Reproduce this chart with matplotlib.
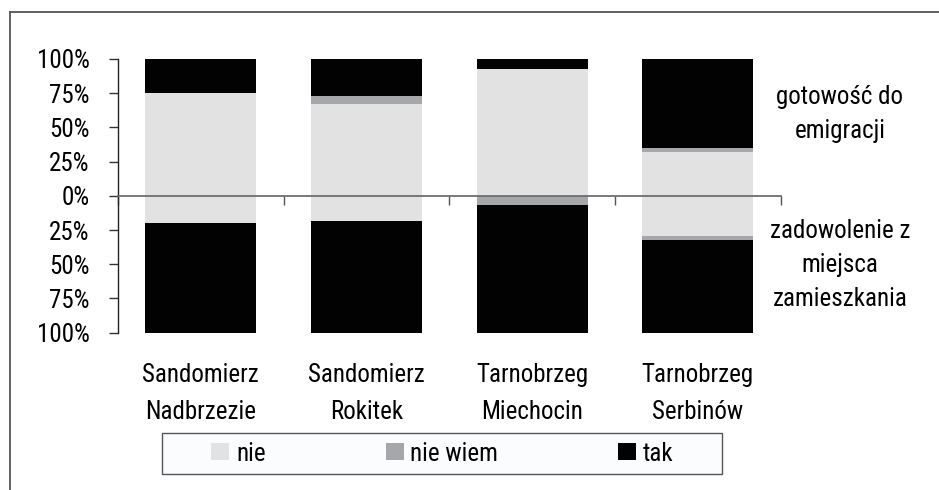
import numpy as np
import matplotlib
matplotlib.use("Agg")
import matplotlib.pyplot as plt
from matplotlib.lines import Line2D
from matplotlib.patches import Rectangle
from matplotlib import font_manager

# data (percent)
categories = ["Sandomierz\nNadbrzezie", "Sandomierz\nRokitek",
              "Tarnobrzeg\nMiechocin", "Tarnobrzeg\nSerbinów"]
series = ["nie", "nie wiem", "tak"]
colors = ["#e1e2e1", "#a6a7aa", "#020202"]

# upper half: gotowość do emigracji
emig_nie = [75, 67, 93, 32]
emig_niewiem = [0, 6, 0, 3]
emig_tak = [25, 27, 7, 65]

# lower half: zadowolenie z miejsca zamieszkania
zad_nie = [20, 18.5, 0, 29]
zad_niewiem = [0, 0, 6.5, 3.5]
zad_tak = [80, 81.5, 93.5, 67.5]

yticks = [-100, -75, -50, -25, 0, 25, 50, 75, 100]

# condensed sans, pick the first one that is installed
have = set(f.name for f in font_manager.fontManager.ttflist)
cands = ["Roboto Condensed", "Archivo Narrow", "PT Sans Narrow",
         "Liberation Sans Narrow", "Open Sans Condensed", "Pragati Narrow"]
fam = [c for c in cands if c in have][:1] + ["DejaVu Sans"]
plt.rcParams["font.family"] = fam
plt.rcParams["font.size"] = 18

fig = plt.figure(figsize=(9.39, 4.90), dpi=100)
ax = fig.add_axes([118/939, 1-332.7/490, (780.7-118)/939, (332.7-59)/490])

x = np.arange(len(categories))
w = 0.67
up = [emig_nie, emig_niewiem, emig_tak]
down = [zad_nie, zad_niewiem, zad_tak]
bot_up = np.zeros(len(x))
bot_dn = np.zeros(len(x))
for i in range(3):
    ax.bar(x, up[i], w, bottom=bot_up, color=colors[i], label=series[i], linewidth=0)
    bot_up = bot_up + np.array(up[i])
    ax.bar(x, -np.array(down[i]), w, bottom=bot_dn, color=colors[i], linewidth=0)
    bot_dn = bot_dn - np.array(down[i])

ax.set_xlim(-0.5, len(categories)-0.5)
ax.set_ylim(-100, 100)
ax.set_yticks(yticks)
ax.set_yticklabels(["%d%%" % abs(v) for v in yticks])
ax.tick_params(axis="y", direction="out", length=6.3, width=1, color="#333333", pad=14)

ax.spines["top"].set_visible(False)
ax.spines["right"].set_visible(False)
ax.spines["left"].set_color("#222222")
ax.spines["left"].set_linewidth(1)
ax.spines["bottom"].set_position(("data", 0))
ax.spines["bottom"].set_color("#6e6e6e")
ax.spines["bottom"].set_linewidth(1.3)
ax.set_xticks(np.arange(-0.5, len(categories), 1.0))
ax.set_xticklabels([])
ax.tick_params(axis="x", direction="out", length=6.3, width=1, color="#555555")

for i, c in enumerate(categories):
    ax.text(x[i], -0.222, c, transform=ax.get_xaxis_transform(), ha="center",
            va="center", linespacing=1.7)

fig.text(840/939, 1-114/490, "gotowość do\nemigracji", ha="center", va="center",
         linespacing=1.55)
fig.text(840/939, 1-265/490, "zadowolenie z\nmiejsca\nzamieszkania", ha="center",
         va="center", linespacing=1.55)

# legend frame box
fig.add_artist(Rectangle((161.7/939, 1-474.3/490), (722.3-161.7)/939, 41.6/490,
                         transform=fig.transFigure, facecolor="#fbfcfe",
                         edgecolor="#555555", lw=1))
leg = fig.legend(loc="center", bbox_to_anchor=(442.5/939, 1-453.5/490), ncol=3,
                 frameon=False, handlelength=0.72, handleheight=0.67,
                 handletextpad=0.27, columnspacing=4.8, borderpad=0)

# outer frame (top and left only)
fig.add_artist(Line2D([9.5/939, 1], [1-12.5/490, 1-12.5/490], color="#555555", lw=1.3))
fig.add_artist(Line2D([9.5/939, 9.5/939], [0, 1-12.5/490], color="#555555", lw=1.3))

fig.savefig("out.png", dpi=100)
